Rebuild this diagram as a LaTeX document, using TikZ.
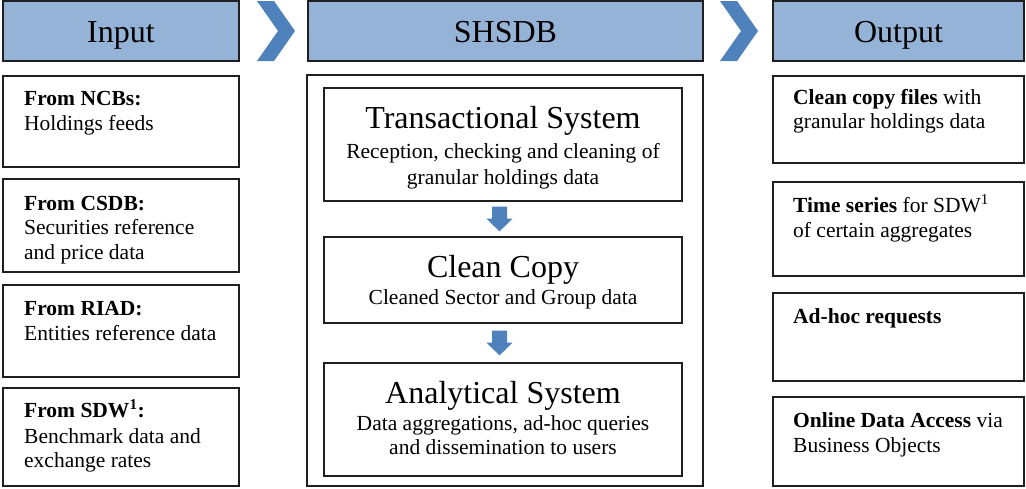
\documentclass[tikz,border=0pt]{standalone}
\usepackage{fontspec}
\setmainfont{Liberation Serif}
\usetikzlibrary{calc}
\definecolor{hdrfill}{HTML}{95B3D7}
\definecolor{accent}{HTML}{4F81BD}
\definecolor{edge}{HTML}{1F1F1F}
\begin{document}
\begin{tikzpicture}[x=1pt,y=-1pt,
  hdr/.style={draw=edge, line width=1.5pt, fill=hdrfill, rectangle, inner sep=0pt},
  boxst/.style={draw=edge, line width=1.4pt, fill=white, rectangle, inner sep=0pt},
  hdrtext/.style={anchor=base, inner sep=0pt, font=\fontsize{32}{36}\selectfont},
  big/.style={anchor=base, inner sep=0pt, font=\fontsize{32}{36}\selectfont},
  body/.style={anchor=base west, inner sep=0pt, font=\fontsize{21.5}{24}\selectfont},
  sub/.style={anchor=base, inner sep=0pt, font=\fontsize{21.5}{24}\selectfont},
  chev/.style={fill=accent, draw=none},
  blockarrow/.style={fill=accent, draw=none}]
\useasboundingbox (0,0) rectangle (1026,488);

% headers
\node[hdr, minimum width=236, minimum height=60] (hin) at (121,31) {};
\node[hdr, minimum width=395, minimum height=60] (hsh) at (505.5,31) {};
\node[hdr, minimum width=251, minimum height=60] (hout) at (898.5,31) {};
\node[hdrtext] (thin) at (121,42) {Input};
\node[hdrtext] (thsh) at (505.5,42) {SHSDB};
\node[hdrtext] (thout) at (898.5,42) {Output};

% chevrons
\fill[chev] (257,1) -- (274,1) -- (295,31) -- (274,61) -- (257,61) -- (278,31) -- cycle;
\fill[chev] (720,1) -- (737,1) -- (758,31) -- (737,61) -- (720,61) -- (741,31) -- cycle;

% input boxes
\node[boxst, minimum width=236, minimum height=91] (in1) at (121,121.5) {};
\node[boxst, minimum width=236, minimum height=93] (in2) at (121,225.5) {};
\node[boxst, minimum width=236, minimum height=92] (in3) at (121,331) {};
\node[boxst, minimum width=236, minimum height=98] (in4) at (121,437) {};
\node[body] (in1a) at (24,105) {\textbf{From NCBs:}};
\node[body] (in1b) at (24,130) {Holdings feeds};
\node[body] (in2a) at (24,210) {\textbf{From CSDB:}};
\node[body] (in2b) at (24,234) {Securities reference};
\node[body] (in2c) at (24,259) {and price data};
\node[body] (in3a) at (24,315) {\textbf{From RIAD:}};
\node[body] (in3b) at (24,340) {Entities reference data};
\node[body] (in4a) at (24,417) {\textbf{From SDW\textsuperscript{1}:}};
\node[body] (in4b) at (24,443) {Benchmark data and};
\node[body] (in4c) at (24,467) {exchange rates};

% SHSDB outer
\node[boxst, minimum width=396, minimum height=411] (outer) at (505,280.5) {};
\node[boxst, minimum width=358, minimum height=113] (tr) at (503,144.5) {};
\node[boxst, minimum width=358, minimum height=86] (cc) at (503,280) {};
\node[boxst, minimum width=358, minimum height=113] (an) at (503,419.5) {};
\node[big] (trt) at (503,128) {Transactional System};
\node[sub] (trs1) at (503,158) {Reception, checking and cleaning of};
\node[sub] (trs2) at (503,184) {granular holdings data};
\node[big] (cct) at (503,277) {Clean Copy};
\node[sub] (ccs1) at (503,304) {Cleaned Sector and Group data};
\node[big] (ant) at (503,403) {Analytical System};
\node[sub] (ans1) at (503,430) {Data aggregations, ad-hoc queries};
\node[sub] (ans2) at (503,454) {and dissemination to users};

% block arrows
\fill[blockarrow] ($(tr.south)+(-11,5)$) -- ++(15,0) -- ++(0,12) -- ++(5.5,0) -- ++(-13,12.7) -- ++(-13,-12.7) -- ++(5.5,0) -- cycle;
\fill[blockarrow] ($(cc.south)+(-11,7)$) -- ++(15,0) -- ++(0,12) -- ++(5.5,0) -- ++(-13,12.7) -- ++(-13,-12.7) -- ++(5.5,0) -- cycle;

% output boxes
\node[boxst, minimum width=251, minimum height=87] (out1) at (898.5,119.5) {};
\node[boxst, minimum width=251, minimum height=94] (out2) at (898.5,229) {};
\node[boxst, minimum width=251, minimum height=88] (out3) at (898.5,337) {};
\node[boxst, minimum width=251, minimum height=89] (out4) at (898.5,441.5) {};
\node[body] (o1a) at (793,104) {\textbf{Clean copy files} with};
\node[body] (o1b) at (793,128) {granular holdings data};
\node[body] (o2a) at (793,212) {\textbf{Time series} for SDW\textsuperscript{1}};
\node[body] (o2b) at (793,237) {of certain aggregates};
\node[body] (o3a) at (793,323) {\textbf{Ad-hoc requests}};
\node[body] (o4a) at (793,427) {\textbf{Online Data Access} via};
\node[body] (o4b) at (793,452) {Business Objects};
\end{tikzpicture}
\end{document}
